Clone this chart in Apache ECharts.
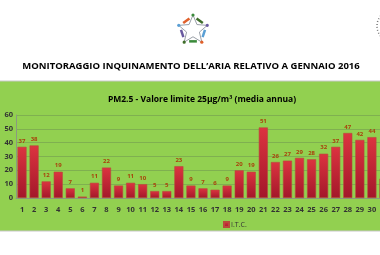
<!DOCTYPE html>
<html>
<head>
<meta charset="utf-8">
<script src="https://cdn.jsdelivr.net/npm/echarts@6/dist/echarts.min.js"></script>
<style>
  html, body { margin: 0; padding: 0; background: #fff; overflow: hidden; }
</style>
</head>
<body>
<div id="myChart" style="width:395px;height:255px"></div>
<script>
  // giorni di gennaio
  var days = []
  for (var d = 1; d <= 31; d++) days.push(String(d))
  // PM2.5 I.T.C. (µg/m³)
  var pm25 = [37, 38, 12, 19, 7, 1, 11, 22, 9, 11, 10, 5, 5, 23, 9, 7, 6, 9, 20, 19,
    51, 26, 27, 29, 28, 32, 37, 47, 42, 44, 14]
  var seriesName = 'I.T.C.'
  var yTicks = [0, 10, 20, 30, 40, 50, 60]

  var myChart = echarts.init(document.getElementById('myChart'))

  // logo a stella (omini colorati)
  var cx = 193, cy = 30, r = 15
  var logoColors = ['#3f6e2a', '#5a9fd4', '#3a8a3a', '#6a5aa0', '#e0602a']
  var logo = []
  var starPts = []
  for (var k = 0; k < 10; k++) {
    var ang = -Math.PI / 2 + k * Math.PI / 5
    var rr = k % 2 === 0 ? r : r * 0.45
    starPts.push([cx + rr * Math.cos(ang), cy + rr * Math.sin(ang)])
  }
  logo.push({
    type: 'polygon',
    shape: { points: starPts },
    style: { fill: '#fff', stroke: '#9aa0a8', lineWidth: 1 }
  })
  for (var i = 0; i < 5; i++) {
    var a1 = -Math.PI / 2 + i * 2 * Math.PI / 5
    var a2 = a1 + 2 * Math.PI / 5
    logo.push({
      type: 'line',
      shape: { x1: cx + r * 0.8 * Math.cos(a1 + 0.3), y1: cy + r * 0.8 * Math.sin(a1 + 0.3), x2: cx + r * 0.8 * Math.cos(a2 - 0.3), y2: cy + r * 0.8 * Math.sin(a2 - 0.3) },
      style: { stroke: logoColors[i], lineWidth: 2.5 }
    })
    logo.push({
      type: 'circle',
      shape: { cx: cx + r * Math.cos(a1), cy: cy + r * Math.sin(a1), r: 1.6 },
      style: { fill: logoColors[(i + 2) % 5] }
    })
  }
  // timbro a destra (tagliato)
  logo.push({
    type: 'circle',
    shape: { cx: 393, cy: 26, r: 16 },
    style: { fill: 'none', stroke: '#777', lineWidth: 1.5, lineDash: [1, 2] }
  })

  var option = {
    backgroundColor: '#fff',
    animation: false,
    graphic: [{
      type: 'rect',
      z: -10,
      shape: { x: -1, y: 81, width: 397, height: 150 },
      style: { fill: '#92d050', stroke: '#c8c8c8', lineWidth: 1 }
    }, {
      type: 'text',
      style: {
        x: 191,
        y: 66,
        text: 'MONITORAGGIO INQUINAMENTO DELL\u2019ARIA RELATIVO A GENNAIO 2016',
        font: 'bold 9.5px "Open Sans"',
        fill: '#000',
        align: 'center',
        verticalAlign: 'middle'
      }
    }].concat(logo),
    title: {
      text: 'PM2.5 - Valore limite 25\u00b5g/m\u00b3 (media annua)',
      left: 197,
      textAlign: 'center',
      top: 90,
      textStyle: { fontFamily: 'Open Sans', fontWeight: 'bold', fontSize: 8.5, color: '#000' }
    },
    legend: {
      data: [seriesName],
      left: 218,
      top: 216,
      icon: 'rect',
      itemWidth: 5,
      itemHeight: 5,
      itemGap: 2,
      textStyle: { fontFamily: 'Open Sans', fontSize: 7, color: '#333', padding: [0, 0, 0, -3] }
    },
    grid: {
      left: 16,
      right: 5,
      top: 115,
      bottom: 57,
      containLabel: false
    },
    xAxis: {
      type: 'category',
      data: days,
      axisLine: { lineStyle: { color: '#8a9a80' } },
      axisTick: { show: false },
      axisLabel: { fontFamily: 'Open Sans', fontSize: 7.5, fontWeight: 'bold', color: '#333', margin: 8, interval: 0 }
    },
    yAxis: {
      type: 'value',
      min: yTicks[0],
      max: yTicks[yTicks.length - 1],
      interval: 10,
      axisLine: { show: true, lineStyle: { color: '#8a9a80' } },
      axisTick: { show: false },
      axisLabel: { fontFamily: 'Open Sans', fontSize: 7.5, fontWeight: 'bold', color: '#333', margin: 3 },
      splitLine: { lineStyle: { color: '#7fb050', width: 1 } }
    },
    series: [{
      name: seriesName,
      type: 'bar',
      data: pm25,
      barCategoryGap: '25%',
      itemStyle: {
        color: new echarts.graphic.LinearGradient(0, 0, 0, 1, [
          { offset: 0, color: '#dc3440' },
          { offset: 1, color: '#a3172a' }
        ]),
        borderColor: '#b94a3a',
        borderWidth: 0.6
      },
      label: {
        show: true,
        position: 'top',
        distance: 3,
        fontFamily: 'Open Sans',
        fontSize: 6,
        fontWeight: 'bold',
        color: '#a8420c'
      }
    }]
  }

  myChart.setOption(option)
</script>
</body>
</html>
